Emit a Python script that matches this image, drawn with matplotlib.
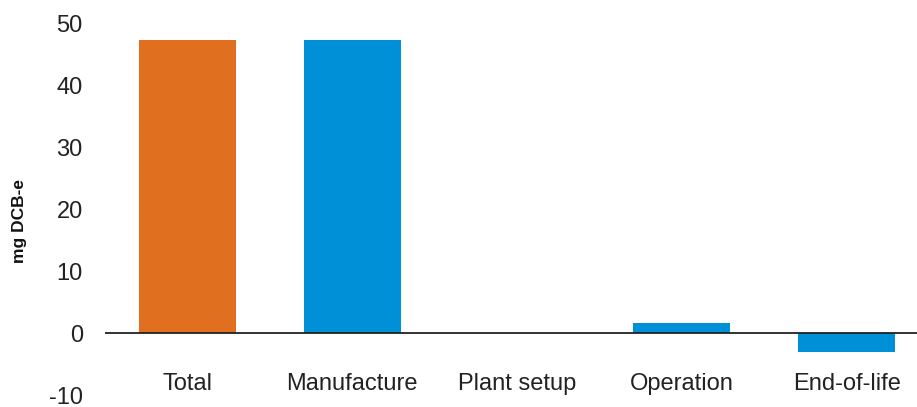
import matplotlib.pyplot as plt

plt.rcParams['font.family'] = ['Liberation Sans', 'DejaVu Sans']
plt.rcParams['axes.unicode_minus'] = False

stages = ['Total', 'Manufacture', 'Plant setup', 'Operation', 'End-of-life']
values = [47.3, 47.3, 0.0, 1.65, -3.1]
colors = ['#E07020', '#0090D8', '#0090D8', '#0090D8', '#0090D8']
yticks = [-10, 0, 10, 20, 30, 40, 50]

fig = plt.figure(figsize=(9.17, 4.07), dpi=100)
ax = fig.add_axes([105/917, 12/407, (929-105)/917, 372/407])

x = range(len(stages))
ax.bar(x, values, width=0.59, color=colors, zorder=2)
ax.axhline(0, color='#222222', linewidth=1.3, zorder=3)

ax.set_xlim(-0.5, 4.5)
ax.set_ylim(-10, 50)
ax.set_yticks(yticks)
ax.tick_params(axis='y', length=0, labelsize=17, pad=16, colors='#222222')
ax.set_xticks([])
for i, s in enumerate(stages):
    ax.text(i, -8.3, s, ha='center', va='center', fontsize=17, color='#222222')

for sp in ax.spines.values():
    sp.set_visible(False)

fig.text(20/917, 1 - 221/407, 'mg DCB-e', rotation=90, ha='center', va='center',
         fontsize=12.5, fontweight='bold', color='#111111')

fig.savefig('out.png', dpi=100)
